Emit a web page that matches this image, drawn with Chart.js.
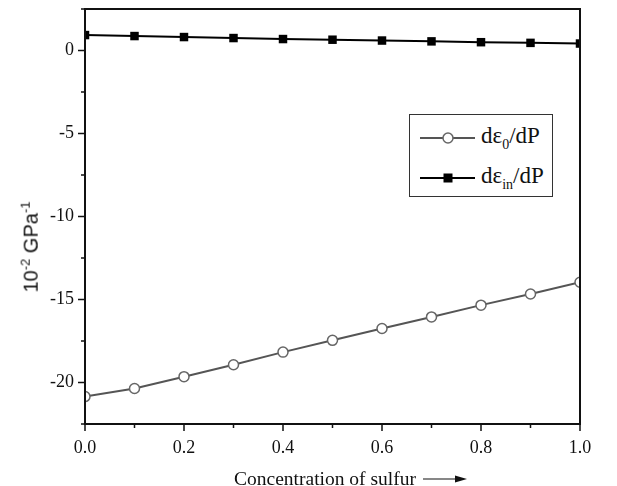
<!DOCTYPE html>
<html>
<head>
<meta charset="utf-8">
<script src="https://cdn.jsdelivr.net/npm/chart.js@4/dist/chart.umd.min.js"></script>
<style>
  body { margin: 0; background: #fff; }
  #wrap { position: relative; width: 617px; height: 486px; overflow: hidden; }
  #legend {
    position: absolute; left: 409px; top: 114px; width: 142px; height: 81px;
    border: 1px solid #333; background: #fff;
    font-family: "Liberation Serif", serif; font-size: 23px; color: #111;
  }
  .row { position: absolute; left: 10px; height: 30px; display: flex; align-items: center; }
  .row svg { margin-right: 6px; }
  #legend sub { font-size: 14px; }
  #ytitle {
    position: absolute; left: 30px; top: 247px; transform: translate(-50%, -50%) rotate(-90deg);
    font-family: "Liberation Sans", sans-serif; font-size: 20px; white-space: nowrap; color: #111;
  }
  #ytitle sup { font-size: 13px; }
  #xtitle {
    position: absolute; left: 234px; top: 467px; height: 24px; display: flex; align-items: center;
    font-family: "Liberation Serif", serif; font-size: 19.5px; color: #111; white-space: nowrap;
  }
</style>
</head>
<body>
<div id="wrap">
  <canvas id="grafico" width="617" height="486"></canvas>
  <div id="legend">
    <div class="row" style="top:8px">
      <svg width="55" height="14"><line x1="0" y1="7" x2="55" y2="7" stroke="#555" stroke-width="2"/><circle cx="28" cy="7" r="5" fill="#fff" stroke="#666" stroke-width="1.5"/></svg>
      <span>dε<sub>0</sub>/dP</span>
    </div>
    <div class="row" style="top:48px">
      <svg width="55" height="14"><line x1="0" y1="7" x2="55" y2="7" stroke="#000" stroke-width="2"/><rect x="23.5" y="2.5" width="9" height="9" fill="#000"/></svg>
      <span>dε<sub>in</sub>/dP</span>
    </div>
  </div>
  <div id="ytitle">10<sup>-2</sup> GPa<sup>-1</sup></div>
  <div id="xtitle">Concentration of sulfur
    <svg width="46" height="12" style="margin-left:7px"><line x1="0" y1="6" x2="36" y2="6" stroke="#111" stroke-width="1.2"/><polygon points="32,2.5 44,6 32,9.5" fill="#111"/></svg>
  </div>
</div>
<script>
// Concentración de azufre (eje x)
let concentracion = [0.0, 0.1, 0.2, 0.3, 0.4, 0.5, 0.6, 0.7, 0.8, 0.9, 1.0]
// dε0/dP
let dEps0 = [-20.85, -20.36, -19.65, -18.93, -18.17, -17.46, -16.75, -16.05, -15.34, -14.67, -13.96]
// dεin/dP
let dEpsIn = [0.93, 0.87, 0.81, 0.75, 0.69, 0.65, 0.60, 0.55, 0.50, 0.46, 0.42]
// etiquetas de los ejes
let xTicks = [0.0, 0.2, 0.4, 0.6, 0.8, 1.0]
let yTicks = [-20, -15, -10, -5, 0]

let puntos = (ys) => concentracion.map((x, i) => ({x: x, y: ys[i]}))

// marcas de los ejes y marco del gráfico
let marcoPlugin = {
  id: 'marco',
  afterDraw(chart) {
    let ctx = chart.ctx
    let a = chart.chartArea
    let sx = chart.scales.x
    let sy = chart.scales.y
    ctx.save()
    ctx.strokeStyle = '#111'
    ctx.lineWidth = 2
    ctx.strokeRect(a.left, a.top, a.right - a.left, a.bottom - a.top)
    ctx.lineWidth = 1.5
    ctx.beginPath()
    for (let i = 0; i <= 10; i++) {
      let px = sx.getPixelForValue(i / 10)
      let len = i % 2 === 0 ? 7 : 4
      ctx.moveTo(px, a.bottom)
      ctx.lineTo(px, a.bottom + len)
    }
    for (let v = -22.5; v <= 2.5; v += 2.5) {
      let py = sy.getPixelForValue(v)
      let len = v % 5 === 0 ? 7 : 4
      ctx.moveTo(a.left, py)
      ctx.lineTo(a.left - len, py)
    }
    ctx.stroke()
    ctx.restore()
  }
}

let config = {
  type: 'line',
  data: {
    datasets: [
      {
        label: 'dε0/dP',
        data: puntos(dEps0),
        borderColor: '#555',
        borderWidth: 2,
        pointStyle: 'circle',
        pointRadius: 5,
        pointBackgroundColor: '#fff',
        pointBorderColor: '#666',
        pointBorderWidth: 1.5,
        clip: 0
      },
      {
        label: 'dεin/dP',
        data: puntos(dEpsIn),
        borderColor: '#000',
        borderWidth: 2,
        pointStyle: 'rect',
        pointRadius: 6,
        pointBackgroundColor: '#000',
        pointBorderColor: '#000',
        pointBorderWidth: 0,
        clip: 0
      }
    ]
  },
  options: {
    responsive: false,
    animation: false,
    layout: { padding: { top: 9, right: 37, left: 0, bottom: 0 } },
    plugins: { legend: { display: false }, tooltip: { enabled: false } },
    scales: {
      x: {
        type: 'linear', min: 0, max: 1,
        afterFit: (s) => { s.height = 62; s.paddingLeft = 0; s.paddingRight = 0 },
        afterBuildTicks: (s) => { s.ticks = xTicks.map(v => ({value: v})) },
        grid: { display: false, drawTicks: false },
        border: { display: false },
        ticks: {
          padding: 13, color: '#111',
          font: { family: 'Liberation Serif', size: 18 },
          callback: (v) => v.toFixed(1)
        }
      },
      y: {
        type: 'linear', min: -22.5, max: 2.5,
        afterFit: (s) => { s.width = 85; s.paddingTop = 0; s.paddingBottom = 0 },
        afterBuildTicks: (s) => { s.ticks = yTicks.map(v => ({value: v})) },
        grid: { display: false, drawTicks: false },
        border: { display: false },
        ticks: {
          padding: 11, color: '#111',
          font: { family: 'Liberation Serif', size: 18 },
          callback: (v) => v
        }
      }
    }
  },
  plugins: [marcoPlugin]
}

let chart1 = new Chart(document.getElementById('grafico'), config)
</script>
</body>
</html>
